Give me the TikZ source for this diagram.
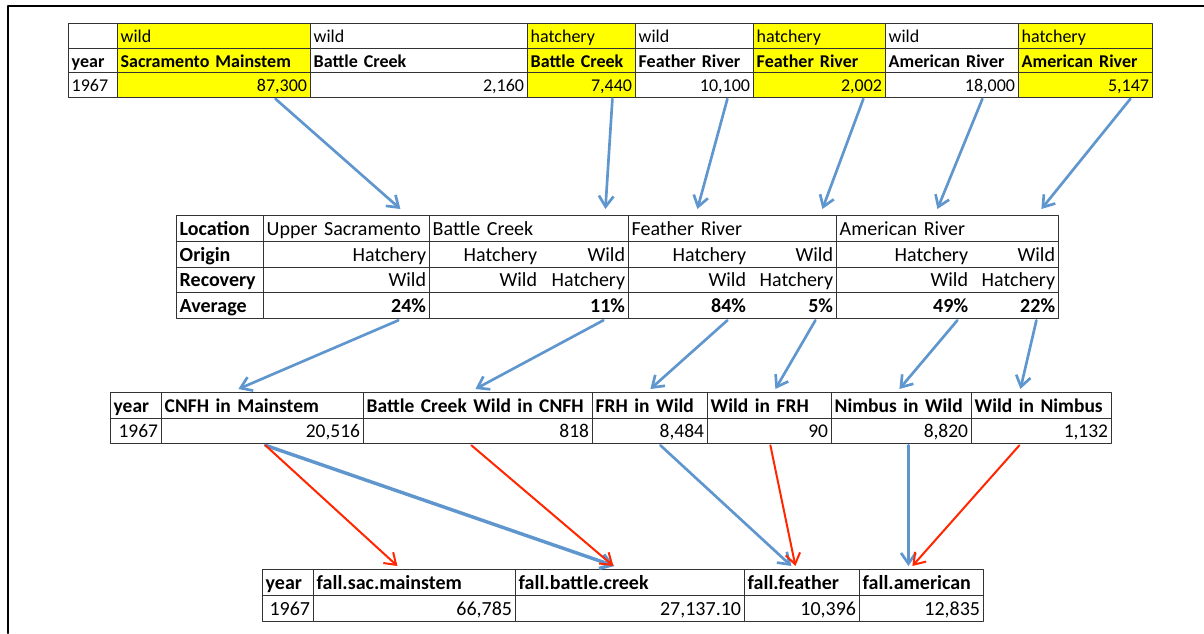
\documentclass[tikz,border=0pt]{standalone}
\usepackage{fontspec}
\setmainfont{Carlito}
\usetikzlibrary{calc,arrows.meta}
\definecolor{cellyellow}{RGB}{255,255,0}
\definecolor{arrblue}{RGB}{96,150,206}
\definecolor{arrred}{RGB}{255,38,0}
\tikzset{
  cell/.style={draw=black!80, line width=0.6pt, anchor=north west, inner xsep=2.5pt, inner ysep=0pt,
    align=left, text height=13.5pt, text depth=3pt},
  bare/.style={cell, draw=none},
  cols/.code 2 args={\pgfmathsetmacro\cw{(#2-#1)*0.75}\pgfmathsetmacro\tw{(#2-#1)*0.75-5}%
    \pgfkeysalso{minimum width=\cw pt, text width=\tw pt}},
  hgt/.style={minimum height=#1*0.75pt},
  small/.style={font=\fontsize{13.5}{16}\selectfont},
  snug/.style={font=\fontsize{14.6}{17}\selectfont},
  bl/.style={->, draw=arrblue, line width=2pt},
  rd/.style={->, draw=arrred, line width=1.5pt},
}
\begin{document}
\begin{tikzpicture}[x=0.75pt, y=-0.75pt, font=\fontsize{15}{17}\selectfont, line join=round, line cap=round, >={Straight Barb[length=8pt,width=11pt]}]
\useasboundingbox (0,0) rectangle (1204,633);
\draw[line width=1.6pt] (8,633) -- (8,6) -- (1204,6);
% counts by river
\node[cell, small, cols={68}{117}, hgt=24.5] (or-yr) at (68,23) {};
\node[cell, small, cols={68}{117}, hgt=24.5] (rv-yr) at (68,47.5) {\textbf{year}};
\node[cell, small, cols={68}{117}, hgt=24.5] (ct-yr) at (68,72) {1967};
\foreach \i/\a/\b/\f/\o/\n/\v in {sm/117/310/cellyellow/wild/Sacramento Mainstem/{87,300},
  bw/310/527/white/wild/Battle Creek/{2,160}, bh/527/635/cellyellow/hatchery/Battle Creek/{7,440},
  fw/635/753/white/wild/Feather River/{10,100}, fh/753/885/cellyellow/hatchery/Feather River/{2,002},
  aw/885/1018/white/wild/American River/{18,000}, ah/1018/1152/cellyellow/hatchery/American River/{5,147}}{
  \node[cell, small, cols={\a}{\b}, hgt=24.5, fill=\f] (or-\i) at (\a,23) {\o};
  \node[cell, small, cols={\a}{\b}, hgt=24.5, fill=\f] (rv-\i) at (\a,47.5) {\textbf{\n}};
  \node[cell, small, cols={\a}{\b}, hgt=24.5, fill=\f, align=right] (ct-\i) at (\a,72) {\v};
}
% stray rates
\foreach \r/\y/\l in {loc/215/Location, ori/240.75/Origin, rec/266.5/Recovery, avg/292.25/Average}
  \node[cell, cols={176}{263}, hgt=25.75] (\r-lab) at (176,\y) {\textbf{\l}};
\foreach \i/\a/\b/\t in {us/263/429/Upper Sacramento, bc/429/628/Battle Creek, fr/628/836/Feather River, ar/836/1058/American River}{
  \node[cell, cols={\a}{\b}, hgt=25.75] (loc-\i) at (\a,215) {\t};
  \foreach \r/\y in {ori/240.75, rec/266.5, avg/292.25}
    \node[cell, cols={\a}{\b}, hgt=25.75] (\r-\i) at (\a,\y) {};
}
\foreach \j/\a/\b/\o/\c/\p in {us/263/429/Hatchery/Wild/24\%, bch/429/540/Hatchery/Wild/{},
  bcw/540/628/Wild/Hatchery/11\%, frh/628/749/Hatchery/Wild/84\%, frw/749/836/Wild/Hatchery/5\%,
  arh/836/971/Hatchery/Wild/49\%, arw/971/1058/Wild/Hatchery/22\%}{
  \node[bare, cols={\a}{\b}, hgt=25.75, align=right] (so-\j) at (\a,240.75) {\o};
  \node[bare, cols={\a}{\b}, hgt=25.75, align=right] (sr-\j) at (\a,266.5) {\c};
  \node[bare, cols={\a}{\b}, hgt=25.75, align=right] (sa-\j) at (\a,292.25) {\textbf{\p}};
}
% strays
\node[cell, snug, cols={110}{161}, hgt=25.5] (hd-yr) at (110,392) {\textbf{year}};
\node[cell, snug, cols={110}{161}, hgt=25.5, align=right] (est-yr) at (110,417.5) {1967};
\foreach \i/\a/\b/\h/\v in {cm/161/363/CNFH in Mainstem/{20,516}, bw/363/592/Battle Creek Wild in CNFH/818,
  fw/592/707/FRH in Wild/{8,484}, wf/707/831/Wild in FRH/90, nw/831/971/Nimbus in Wild/{8,820},
  wn/971/1111/Wild in Nimbus/{1,132}}{
  \node[cell, snug, cols={\a}{\b}, hgt=25.5] (hd-\i) at (\a,392) {\textbf{\h}};
  \node[cell, snug, cols={\a}{\b}, hgt=25.5, align=right] (est-\i) at (\a,417.5) {\v};
}
% fall run totals
\node[cell, cols={262}{313}, hgt=26] (fh-yr) at (262,569) {\textbf{year}};
\node[cell, cols={262}{313}, hgt=26, align=right] (fv-yr) at (262,595) {1967};
\foreach \i/\a/\b/\h/\v in {sac/313/515/fall.sac.mainstem/{66,785}, bc/515/744/fall.battle.creek/{27,137.10},
  fe/744/859/fall.feather/{10,396}, am/859/983/fall.american/{12,835}}{
  \node[cell, cols={\a}{\b}, hgt=26] (fh-\i) at (\a,569) {\textbf{\h}};
  \node[cell, cols={\a}{\b}, hgt=26, align=right] (fv-\i) at (\a,595) {\v};
}
% arrows
\foreach \s/\ds/\t/\dt in {ct-sm/61.5/loc-us/54, ct-bh/31/loc-bc/76.5, ct-fw/33/loc-fr/-35,
  ct-fh/44/loc-fr/90, ct-aw/30.5/loc-ar/-10, ct-ah/45/loc-ar/94}
  \draw[bl] ($(\s.south)+(\ds,1.5)$) -- ($(\t.north)+(\dt,-6)$);
\foreach \s/\ds/\t/\dt in {sa-us/52/hd-cm/-24, sa-bcw/19/hd-bw/-2.5, sa-frh/38.5/hd-fw/0.5,
  sa-frw/22.5/hd-wf/6, sa-arh/53.5/hd-nw/-2, sa-arw/21.5/hd-wn/-21}
  \draw[bl] ($(\s.south)+(\ds,1.5)$) -- ($(\t.north)+(\dt,-3)$);
\draw[bl, line width=2.6pt] ($(est-cm.south)+(3,1.5)$) -- ($(fh-bc.north)+(-15.5,-3)$);
\foreach \s/\ds/\t/\dt in {est-fw/10.5/fh-fe/-10.5, est-nw/7/fh-am/-13}
  \draw[bl] ($(\s.south)+(\ds,1.5)$) -- ($(\t.north)+(\dt,-3)$);
\foreach \s/\ds/\t/\dt in {est-cm/3/fh-sac/-17, est-bw/-6.5/fh-bc/-16.5, est-wf/1/fh-fe/-6.5, est-wn/-22/fh-am/-9}
  \draw[rd] ($(\s.south)+(\ds,1.5)$) -- ($(\t.north)+(\dt,-3)$);
\end{tikzpicture}
\end{document}
